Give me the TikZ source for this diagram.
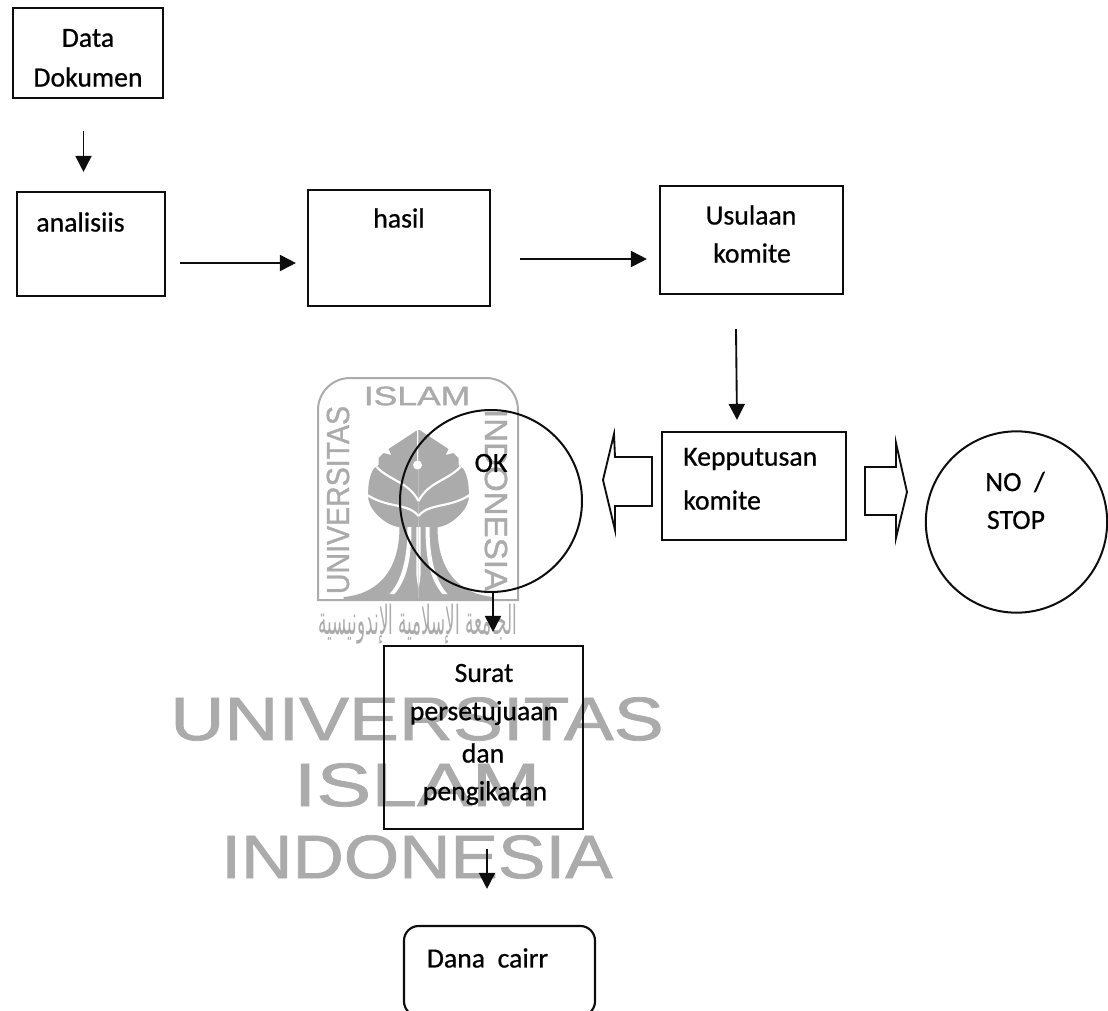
\documentclass[tikz,border=0pt]{standalone}
\usepackage{fontspec}
\setmainfont[FakeBold=0.7]{Carlito}
\newfontfamily\markfont[FakeBold=1.2]{Liberation Sans}
\newfontfamily\arabicfont[Script=Arabic]{DejaVu Sans}
\TeXXeTstate=1
\usetikzlibrary{arrows.meta,calc}
\usepackage{xcolor}
\newcommand{\PxUnit}{0.75}
\colorlet{markGray}{black!33}
\colorlet{lineBlack}{black!95}
\newcommand{\PlaceBox}[6]{%
  % #1 style, #2 name, #3 left, #4 top, #5 right, #6 bottom (pixels)
  \pgfmathsetmacro{\BoxW}{(#5-#3)*\PxUnit}
  \pgfmathsetmacro{\BoxH}{(#6-#4)*\PxUnit}
  \node[#1,minimum width=\BoxW pt,minimum height=\BoxH pt] (#2) at ({(#3+#5)/2},{(#4+#6)/2}) {};
}

\begin{document}
\begin{tikzpicture}[
  x=0.75pt,y=-0.75pt,
  >={Triangle[length=12pt,width=12pt]},
  stepbox/.style={draw=lineBlack,line width=1.6pt,inner sep=0pt},
  roundbox/.style={stepbox,rounded corners=11pt},
  roundnode/.style={draw=lineBlack,line width=1.5pt,circle,inner sep=0pt},
  flow/.style={->,draw=lineBlack,line width=1.4pt},
  hollow/.style={draw=lineBlack,line width=1.4pt,line join=miter},
  boxtext/.style={font=\fontsize{20.8}{24}\selectfont,text=black,inner sep=0pt},
  bigmark/.style={font=\markfont\fontsize{46}{50}\selectfont,text=markGray,inner sep=0pt},
  logotext/.style={font=\markfont\fontsize{20}{22}\selectfont,text=markGray,inner sep=0pt}
]
\useasboundingbox (0,0) rectangle (1108,1011);

% Watermark logo
\draw[markGray,line width=1.5pt] (318,600) [rounded corners=24pt] -- (318,378) -- (518,378)
  [sharp corners] -- (518,600) -- cycle;
\node[logotext,xscale=1.33] (marktop) at (417,396) {ISLAM};
\node[logotext,rotate=90,xscale=1.07,yscale=1.2] (markleft) at (338,500) {UNIVERSITAS};
\node[logotext,rotate=-90,xscale=1.24,yscale=1.2] (markright) at (496,500) {INDONESIA};
\foreach \s in {1,-1}{%
  \begin{scope}[shift={(418.5,0)},xscale=\s]
    % crown
    \fill[markGray] (0,430) -- (-1,430) -- (-30,449) -- (-27,455) -- (-35,453) -- (-40,458) -- (-40,465)
      -- (-45,469) .. controls (-50,477) and (-51,490) .. (-50,500)
      .. controls (-48,512) and (-30,527) .. (-19,527) -- (0,528) -- cycle;
    \draw[white,line width=1.6pt] (-42,467) .. controls (-28,481) and (-10,482) .. (0,501);
    \draw[white,line width=1.6pt] (-51,495) .. controls (-32,508) and (-10,503) .. (0,516);
    % trunk
    \fill[markGray] (-19,527) .. controls (-19,570) and (-40,594) .. (-75,597) -- (-75,600) -- (0,600) -- (0,527) -- cycle;
    \fill[white] (-11,527) -- (-7,527) .. controls (-7,560) and (-12,580) .. (-24,594)
      -- (-29,594) .. controls (-14,578) and (-11,550) .. cycle;
    \fill[white] (0,527) -- (-2.2,527) -- (-2.2,570) .. controls (-2.2,578) and (-1,584) .. (0,588) -- cycle;
  \end{scope}
}
\fill[white] (417.5,465) circle[radius=4.5];
\draw[white,line width=1.1pt] (417.5,430) -- (417.5,462);
\node[font=\arabicfont\fontsize{20}{24}\selectfont,text=markGray,inner sep=0pt,xscale=0.63,yscale=1.5] (markarabic) at (418,624)
  {\beginR الجامعة الإسلامية الإندونيسية\endR};

% Watermark words
\node[bigmark,xscale=1.22] (markone) at (417,719) {UNIVERSITAS};
\node[bigmark,xscale=1.34] (marktwo) at (417,785) {ISLAM};
\node[bigmark,xscale=1.16] (markthree) at (417,857) {INDONESIA};

% Boxes
\PlaceBox{stepbox}{datadok}{13}{8}{163}{98}
\PlaceBox{stepbox}{analisis}{17}{192}{165}{296}
\PlaceBox{stepbox}{hasil}{308}{190}{490}{306}
\PlaceBox{stepbox}{usulan}{660}{186}{843}{294}
\PlaceBox{stepbox}{keputusan}{662}{432}{846}{540}
\PlaceBox{stepbox}{surat}{384}{646}{583}{829}
\PlaceBox{roundbox}{dana}{404}{926}{595}{1016}
\node[roundnode,minimum size=136.5pt] (oknode) at (491,501) {};
\node[roundnode,minimum size=136pt] (stopnode) at (1016.5,522) {};

% Texts
\node[boxtext] (datatext) at (88,38) {Data};
\node[boxtext] (doktext) at (88,77) {Dokumen};
\node[boxtext] (analisistext) at (80.5,222) {analisiis};
\node[boxtext] (hasiltext) at (399,218) {hasil};
\node[boxtext] (usulantext) at (751,215) {Usulaan};
\node[boxtext] (komitetext) at (752,253) {komite};
\node[boxtext,anchor=west] (keputusantext) at (683,459) {Kepputusan};
\node[boxtext,anchor=west] (komitetwotext) at (683,500) {komite};
\node[boxtext] (oktext) at (491,463) {OK};
\node[boxtext] (notext) at (1015,482) {NO\ \ /};
\node[boxtext] (stoptext) at (1016,520) {STOP};
\node[boxtext] (surattext) at (484,673) {Surat};
\node[boxtext] (setujutext) at (484,713) {persetujuaan};
\node[boxtext] (dantext) at (483,753) {dan};
\node[boxtext] (ikattext) at (485,793) {pengikatan};
\node[boxtext] (danatext) at (487.5,958) {Dana\ \ cairr};

% Connections
\draw[flow] ([shift={(-4.5,32)}]datadok.south) -- ([shift={(-7.5,-19)}]analisis.north);
\draw[flow] ([shift={(14,19)}]analisis.east) -- ([shift={(-11,15)}]hasil.west);
\draw[flow] ([shift={(29,11)}]hasil.east) -- ([shift={(-12,19)}]usulan.west);
\draw[flow] ([shift={(-15.5,34)}]usulan.south) -- ([shift={(-17,-11)}]keputusan.north);
\draw[flow] ([shift={(2,0)}]oknode.south) -- ([shift={(9.5,-13)}]surat.north);
\draw[flow] ([shift={(3.5,19)}]surat.south) -- ([shift={(-12.5,-36)}]dana.north);

% Block arrows
\draw[hollow] (652,457) -- (615,457) -- (614,434) -- (603,480) -- (615,530) -- (615,506) -- (652,506) -- cycle;
\draw[hollow] (865,467) -- (896,467) -- (896,443) -- (907,492) -- (896,538) -- (896,515) -- (865,515) -- cycle;
\end{tikzpicture}
\end{document}
